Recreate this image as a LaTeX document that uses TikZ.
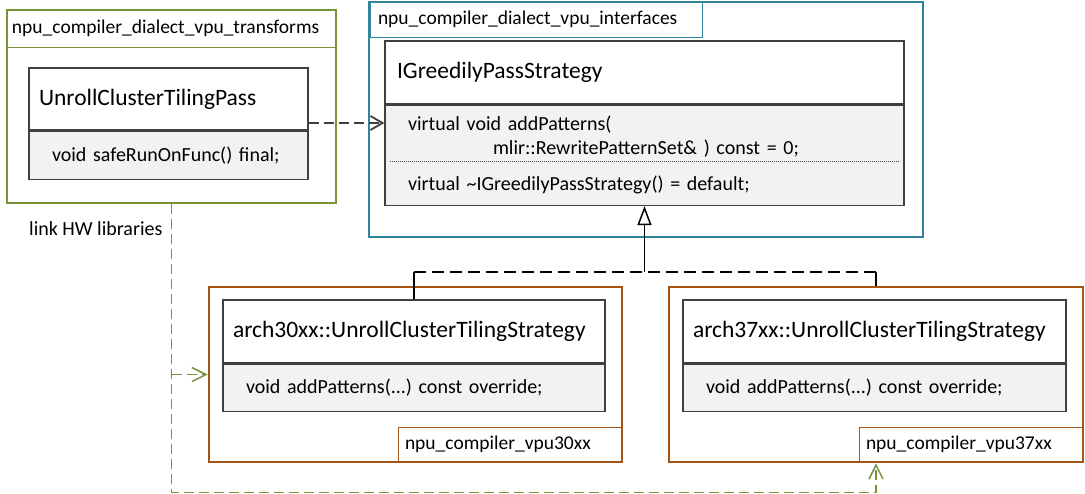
\documentclass[tikz,border=0pt]{standalone}
\usepackage{fontspec}
\setmainfont{Carlito}
\usetikzlibrary{arrows.meta,positioning}
\definecolor{PkgGreen}{RGB}{119,147,60}
\definecolor{PkgTeal}{RGB}{49,133,155}
\definecolor{PkgOrange}{RGB}{166,85,20}
\definecolor{ClsLine}{RGB}{64,64,64}
\definecolor{ClsFill}{RGB}{242,242,242}
\newcommand\txtfont{\fontsize{20}{24}\selectfont}
\newcommand\hdrfont{\fontsize{23.5}{28}\selectfont}
\newcommand\tabfont{\fontsize{19.5}{23}\selectfont}
\frenchspacing

\begin{document}
\begin{tikzpicture}[x=1pt,y=-1pt,
  pkg/.style={draw=#1,line width=2.8pt,inner sep=0pt,minimum height=175pt},
  pkgtab/.style={draw=#1,line width=0.9pt,fill=white,font=\tabfont,align=left,inner xsep=7pt,inner ysep=0pt,minimum height=35pt},
  clshead/.style={draw=ClsLine,line width=1.4pt,fill=white,font=\hdrfont,align=left,inner xsep=10pt,inner ysep=0pt,minimum height=63pt},
  clsbody/.style={draw=ClsLine,line width=1.4pt,fill=ClsFill,font=\txtfont,align=left,inner xsep=23pt,inner ysep=0pt,minimum height=47pt},
  dep/.style={draw=ClsLine,line width=1.8pt,dash pattern=on 10pt off 5pt,-{Straight Barb[length=12pt,width=14pt]}},
  realize/.style={draw=black,line width=1.5pt},
  link/.style={draw=PkgGreen,line width=1.5pt,dash pattern=on 10pt off 5pt,-{Straight Barb[length=14pt,width=14pt]}}]
\useasboundingbox (0,0) rectangle (1085,493);

% package tabs
\node[pkgtab=PkgGreen,text width=319pt,inner xsep=5pt,minimum height=37pt] (gtab) at (171.5,28.5) {npu\_compiler\_dialect\_vpu\_transforms};
\node[pkgtab=PkgTeal,text width=316pt,inner xsep=8pt] (ttab) at (536,19.5) {npu\_compiler\_dialect\_vpu\_interfaces};
\node[pkgtab=PkgOrange,text width=210pt] (t30) at (510,444.5) {npu\_compiler\_vpu30xx};
\node[pkgtab=PkgOrange,text width=210pt] (t37) at (971,444.5) {npu\_compiler\_vpu37xx};

% packages
\node[pkg=PkgGreen,minimum width=329pt,minimum height=193pt] (gpkg) at (171.5,106.5) {};
\node[pkg=PkgTeal,minimum width=554pt,minimum height=235pt] (tpkg) at (646,119.5) {};
\node[pkg=PkgOrange,minimum width=413pt] (p30) at (415.5,374.5) {};
\node[pkg=PkgOrange,minimum width=414pt] (p37) at (876,374.5) {};

% classes
\node[clshead,text width=259pt,minimum height=62pt] (h1) at (168.5,99) {UnrollClusterTilingPass};
\node[clsbody,text width=233pt,minimum height=48pt,below=0pt of h1] (b1) {void safeRunOnFunc() final;};

\node[clshead,text width=495pt,inner xsep=12pt] (ih) at (644.5,72.5) {IGreedilyPassStrategy};
\node[clsbody,text width=473pt,minimum height=100pt,below=0pt of ih] (ib) {virtual void addPatterns(\\\hspace*{85pt}mlir::RewritePatternSet\& ) const = 0;\\[12pt]virtual \textasciitilde IGreedilyPassStrategy() = default;};
\draw[ClsLine,line width=1pt,dash pattern=on 1pt off 1pt] ([xshift=6pt,yshift=-57pt]ib.north west) -- ([xshift=-6pt,yshift=-57pt]ib.north east);

\node[clshead,text width=362pt] (h30) at (414,331.5) {arch30xx::UnrollClusterTilingStrategy};
\node[clsbody,text width=336pt,below=0pt of h30] (b30) {void addPatterns(...) const override;};

\node[clshead,text width=363pt] (h37) at (874.5,331.5) {arch37xx::UnrollClusterTilingStrategy};
\node[clsbody,text width=337pt,below=0pt of h37] (b37) {void addPatterns(...) const override;};

% dependency
\coordinate (dsrc) at ([yshift=-24pt]h1.east);
\draw[dep] (dsrc) -- (dsrc -| ib.west);

% realization
\coordinate (jn) at ([yshift=-66pt]ib.south);
\draw[realize,dash pattern=on 12pt off 6pt] (h30.north |- jn) -- (p37.north |- jn);
\draw[realize] (h30.north) -- (h30.north |- jn);
\draw[realize] (p37.north) -- (p37.north |- jn);
\draw[realize,-{Triangle[open,length=19pt,width=14pt]}] (jn) -- (ib.south);

% link HW libraries
\coordinate (lnk) at ([yshift=-288pt]gpkg.south);
\draw[link] (gpkg.south) -- node[pos=0.083,left,xshift=-5pt,font=\txtfont,text=black] {link HW libraries} (lnk) -| (p37.south);
\draw[link] (p30.west -| gpkg.south) -- (p30.west);
\end{tikzpicture}
\end{document}
